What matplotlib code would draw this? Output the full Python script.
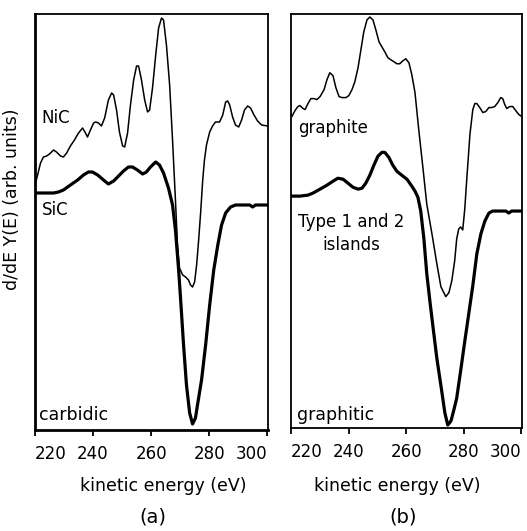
import numpy as np
import matplotlib
matplotlib.use("Agg")
from matplotlib import pyplot as plt

plt.rcParams['font.family'] = ['DejaVu Sans']

# energies in eV, signal in arbitrary units
# panel (a): NiC (thin) and SiC (thick)
e_nic = [220.2, 220.9, 221.9, 222.9, 224.0, 225.0, 226.4, 227.4, 228.8, 229.8,
         230.9, 232.2, 233.6, 235.0, 236.4, 237.4, 238.1, 239.1, 240.2, 240.9,
         241.9, 242.9, 244.0, 245.3, 246.4, 247.1, 248.1, 249.1, 250.2, 250.9,
         251.9, 252.9, 254.0, 255.0, 255.7, 256.7, 257.8, 258.8, 259.5, 260.5,
         261.6, 262.6, 263.6, 264.3, 265.3, 266.4, 267.4, 268.4, 269.1, 269.8,
         270.9, 271.9, 272.9, 273.6, 274.3, 275.0, 275.7, 276.4, 277.1, 277.8,
         278.4, 279.1, 280.2, 281.2, 282.2, 283.6, 284.7, 285.7, 286.4, 287.1,
         288.1, 289.1, 290.2, 291.2, 292.2, 293.3, 294.3, 295.3, 296.7, 298.1,
         300.2]
y_nic = [24.7, 25.5, 26.7, 27.3, 27.4, 27.6, 28.0, 27.8, 27.4, 27.3,
         27.7, 28.4, 29.0, 29.7, 30.2, 29.7, 29.3, 30.0, 30.7, 30.8,
         30.7, 30.4, 31.2, 33.0, 33.7, 33.5, 32.0, 29.8, 28.4, 28.3,
         29.7, 32.5, 35.0, 36.4, 36.4, 35.0, 33.0, 31.8, 32.0, 34.2,
         37.5, 40.2, 41.2, 41.0, 38.5, 34.5, 29.0, 23.0, 18.5, 16.2,
         15.5, 15.3, 15.0, 14.5, 14.3, 14.8, 16.5, 19.0, 21.8, 25.0,
         27.0, 28.5, 29.8, 30.4, 30.8, 30.8, 31.5, 32.8, 32.9, 32.5,
         31.3, 30.5, 30.3, 31.0, 32.0, 32.4, 32.2, 31.6, 30.9, 30.5,
         30.4]

e_sic = [220.2, 223.6, 226.4, 228.1, 229.8, 232.2, 234.7, 236.7, 238.4, 239.8,
         241.6, 243.6, 245.3, 247.1, 248.8, 250.5, 252.2, 253.6, 255.3, 257.1,
         258.4, 259.8, 261.6, 262.9, 264.3, 266.0, 267.4, 268.4, 269.5, 270.2,
         271.2, 272.2, 273.3, 274.3, 275.3, 276.0, 277.4, 278.8, 280.2, 281.6,
         283.0, 284.3, 285.7, 287.4, 289.1, 291.6, 294.0, 295.0, 296.0, 298.1,
         300.2]
y_sic = [23.7, 23.7, 23.7, 23.8, 24.0, 24.5, 25.0, 25.5, 25.8, 25.8,
         25.5, 25.0, 24.6, 24.9, 25.4, 25.9, 26.3, 26.3, 26.0, 25.6,
         25.8, 26.3, 26.8, 26.5, 25.7, 24.2, 22.5, 20.0, 16.0, 13.0,
         8.5, 4.5, 1.7, 0.6, 1.2, 2.5, 5.0, 8.5, 12.5, 16.0,
         18.5, 20.5, 21.7, 22.3, 22.5, 22.5, 22.5, 22.3, 22.5, 22.5,
         22.5]

# panel (b): graphite (thin) and type 1 and 2 islands (thick)
e_gra = [220.3, 221.4, 222.4, 223.1, 224.2, 224.9, 225.9, 226.9, 228.0, 229.0,
         230.1, 231.5, 232.5, 233.5, 234.6, 235.6, 236.7, 237.7, 239.1, 240.1,
         241.2, 242.2, 243.3, 244.3, 245.3, 246.4, 247.4, 248.5, 249.5, 250.6,
         251.6, 252.6, 253.7, 254.7, 255.8, 256.8, 257.8, 258.9, 259.9, 261.0,
         262.0, 263.1, 264.4, 265.8, 267.2, 269.0, 270.7, 272.1, 273.8, 274.9,
         275.9, 276.9, 277.6, 278.3, 279.0, 279.7, 280.4, 281.1, 282.2, 283.2,
         283.9, 284.6, 285.6, 286.7, 287.7, 288.8, 289.8, 290.8, 291.9, 292.9,
         293.6, 294.3, 295.0, 296.0, 297.1, 298.1, 299.2, 300.2]
y_gra = [31.1, 31.7, 32.1, 32.2, 31.9, 31.8, 32.4, 32.9, 32.9, 32.8,
         33.1, 33.8, 34.8, 35.5, 35.2, 34.0, 33.1, 33.0, 33.0, 33.2,
         33.8, 34.6, 36.0, 37.8, 39.6, 40.8, 41.1, 40.8, 39.8, 38.6,
         38.1, 37.6, 37.0, 36.8, 36.6, 36.4, 36.4, 36.7, 36.9, 36.5,
         35.3, 33.5, 29.8, 26.1, 22.3, 19.3, 16.3, 14.0, 13.0, 13.4,
         14.6, 16.6, 18.8, 19.8, 20.0, 19.7, 21.8, 24.8, 29.3, 31.8,
         32.4, 32.4, 32.0, 31.5, 31.6, 32.0, 32.0, 32.1, 32.5, 33.0,
         32.9, 32.3, 31.9, 32.1, 32.1, 31.7, 31.3, 31.1]

e_isl = [220.3, 223.1, 225.9, 227.6, 230.1, 232.5, 234.6, 236.3, 238.1, 239.8,
         241.5, 243.3, 244.7, 246.0, 247.4, 248.8, 250.2, 251.6, 252.6, 254.0,
         255.4, 256.8, 258.5, 260.3, 262.0, 263.1, 264.1, 265.1, 266.2, 267.2,
         268.3, 269.3, 270.7, 272.4, 273.5, 274.5, 275.6, 276.6, 277.6, 279.0,
         280.4, 281.8, 283.2, 284.6, 286.0, 287.4, 288.8, 290.1, 292.6, 294.7,
         295.7, 296.7, 300.2]
y_isl = [23.1, 23.1, 23.2, 23.4, 23.8, 24.2, 24.6, 24.9, 24.8, 24.4,
         24.0, 23.8, 23.9, 24.4, 25.2, 26.2, 27.1, 27.5, 27.5, 27.0,
         26.2, 25.6, 25.2, 24.8, 24.1, 23.6, 23.0, 21.6, 18.8, 15.3,
         12.5, 10.1, 6.8, 3.5, 1.3, 0.1, 0.5, 1.6, 2.8, 5.6,
         8.5, 11.3, 14.1, 17.3, 19.3, 20.6, 21.4, 21.6, 21.6, 21.6,
         21.4, 21.6, 21.6]

xticks = [220, 240, 260, 280, 300]

fig = plt.figure(figsize=(5.27, 5.31), dpi=100)
ax1 = fig.add_axes([35 / 527, 1 - 430 / 531, 233 / 527, 416 / 531])
ax2 = fig.add_axes([291 / 527, 1 - 428 / 531, 231 / 527, 414 / 531])

ax1.plot(e_nic, y_nic, color='black', lw=1.1)
ax1.plot(e_sic, y_sic, color='black', lw=2.3)
ax1.set_ylim(0, 41.6)

ax2.plot(e_gra, y_gra, color='black', lw=1.1)
ax2.plot(e_isl, y_isl, color='black', lw=2.3)
ax2.set_ylim(-0.2, 41.4)

for ax in (ax1, ax2):
    ax.set_xlim(220, 300.3)
    ax.set_yticks([])
    ax.set_xticks(xticks)
    ax.set_xticklabels([str(t) for t in xticks], fontsize=12)
    labs = ax.get_xticklabels()
    labs[0].set_ha('left')
    labs[-1].set_ha('right')
    ax.tick_params(axis='x', direction='out', length=4, width=1.3, pad=7)
    for s in ax.spines.values():
        s.set_linewidth(1.3)
    ax.set_xlabel('kinetic energy (eV)', fontsize=12.5)
ax1.spines['left'].set_linewidth(2.0)
ax1.spines['bottom'].set_linewidth(2.0)
ax1.xaxis.set_label_coords(0.549, -0.113)
ax2.xaxis.set_label_coords(0.459, -0.118)

ax1.text(0.026, 0.75, 'NiC', transform=ax1.transAxes, fontsize=12, va='center')
ax1.text(0.03, 0.529, 'SiC', transform=ax1.transAxes, fontsize=12, va='center')
ax1.text(0.017, 0.036, 'carbidic', transform=ax1.transAxes, fontsize=12.5, va='center')

ax2.text(0.03, 0.725, 'graphite', transform=ax2.transAxes, fontsize=12, va='center')
ax2.text(0.03, 0.498, 'Type 1 and 2', transform=ax2.transAxes, fontsize=12, va='center')
ax2.text(0.26, 0.442, 'islands', transform=ax2.transAxes, fontsize=12, va='center', ha='center')
ax2.text(0.026, 0.031, 'graphitic', transform=ax2.transAxes, fontsize=12.5, va='center')

fig.text(12 / 527, 1 - 199 / 531, 'd/dE Y(E) (arb. units)', rotation=90,
         fontsize=12.5, ha='center', va='center')
fig.text(153 / 527, 1 - 517 / 531, '(a)', fontsize=14, ha='center', va='center')
fig.text(403 / 527, 1 - 517 / 531, '(b)', fontsize=14, ha='center', va='center')

fig.savefig('out.png', dpi=100)
